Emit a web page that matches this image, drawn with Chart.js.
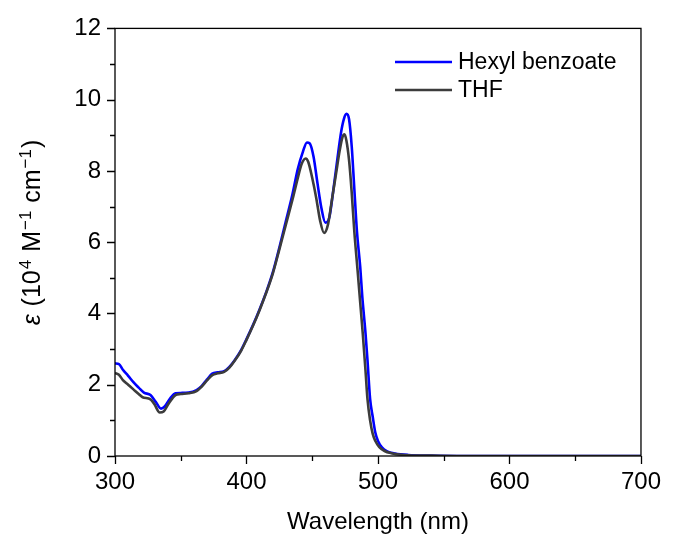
<!DOCTYPE html>
<html>
<head>
<meta charset="utf-8">
<script src="https://cdn.jsdelivr.net/npm/chart.js@4/dist/chart.umd.min.js"></script>
<style>
  html, body { margin: 0; padding: 0; background: #fff; }
</style>
</head>
<body>
<canvas id="chart" width="673" height="542"></canvas>
<script>
// Series data (wavelength in nm, epsilon in 10^4 M^-1 cm^-1)
const seriesLabels = ['Hexyl benzoate', 'THF'];

const hexylWavelength = [300, 303, 306, 310, 314, 318, 322, 327, 331, 335, 338, 342, 346, 350, 356, 362, 366, 370, 374, 378, 383, 387, 391, 396, 400, 405, 410, 415, 420, 425, 430, 435, 439, 443, 446, 448, 451, 454, 457, 460, 463, 466, 469, 472, 474, 476, 478, 480, 482, 484, 486.5, 488, 490.5, 492, 494, 496, 498, 500, 503, 507, 513, 523, 540, 560, 700];
const hexylEps = [2.60, 2.58, 2.42, 2.25, 2.07, 1.92, 1.78, 1.71, 1.52, 1.33, 1.40, 1.62, 1.76, 1.77, 1.78, 1.85, 1.97, 2.15, 2.31, 2.35, 2.38, 2.50, 2.69, 2.98, 3.28, 3.68, 4.12, 4.60, 5.15, 5.85, 6.60, 7.35, 8.05, 8.55, 8.80, 8.78, 8.40, 7.65, 6.95, 6.55, 6.70, 7.45, 8.30, 9.10, 9.45, 9.60, 9.45, 8.70, 7.50, 6.30, 5.30, 4.50, 3.45, 2.70, 1.60, 1.10, 0.65, 0.42, 0.24, 0.13, 0.07, 0.03, 0.01, 0, 0];

const thfWavelength = [300, 303, 306, 310, 314, 318, 321, 327, 330, 334, 337, 341, 346, 350, 356, 362, 366, 370, 374, 378, 383, 387, 391, 396, 400, 405, 410, 415, 420, 425, 430, 435, 439, 442, 445, 447, 450, 453, 456, 459, 462, 465, 468, 471, 473, 474.5, 476, 478, 480, 482, 484.5, 486.5, 488.5, 490.5, 492, 494, 496, 498, 501, 505, 510, 520, 540, 560, 700];
const thfEps = [2.33, 2.28, 2.13, 2.00, 1.87, 1.74, 1.65, 1.59, 1.45, 1.22, 1.25, 1.48, 1.71, 1.74, 1.76, 1.82, 1.95, 2.12, 2.27, 2.32, 2.36, 2.48, 2.67, 2.96, 3.26, 3.66, 4.10, 4.58, 5.12, 5.80, 6.50, 7.20, 7.80, 8.20, 8.35, 8.25, 7.80, 7.25, 6.60, 6.26, 6.50, 7.20, 7.90, 8.60, 8.95, 9.03, 8.85, 8.30, 7.40, 6.30, 5.20, 4.30, 3.40, 2.40, 1.60, 1.00, 0.62, 0.42, 0.25, 0.14, 0.08, 0.03, 0.01, 0, 0];

const xTicks = [300, 400, 500, 600, 700];
const yTicks = [0, 2, 4, 6, 8, 10, 12];

const fontFamily = "Arial, 'Liberation Sans', Helvetica, sans-serif";
const blue = '#0000ff';
const grey = '#3c3c3c';

function toPoints(xs, ys) {
    return xs.map((x, i) => ({ x: x, y: ys[i] }));
}

// frame, outward ticks (major + minor), legend and axis titles
const decorations = {
    id: 'decorations',
    afterDraw(chart) {
        const { ctx, chartArea: a, scales: { x, y } } = chart;
        ctx.save();
        ctx.strokeStyle = '#000';
        ctx.lineWidth = 1.3;
        ctx.strokeRect(a.left, a.top, a.right - a.left, a.bottom - a.top);

        ctx.beginPath();
        for (let v = yTicks[0]; v <= yTicks[yTicks.length - 1]; v += 1) {
            const p = Math.round(y.getPixelForValue(v)) + 0.5;
            const len = yTicks.includes(v) ? 8 : 5;
            ctx.moveTo(a.left, p);
            ctx.lineTo(a.left - len, p);
        }
        for (let v = xTicks[0]; v <= xTicks[xTicks.length - 1]; v += 50) {
            const p = Math.round(x.getPixelForValue(v)) + 0.5;
            const len = xTicks.includes(v) ? 8 : 5;
            ctx.moveTo(p, a.bottom);
            ctx.lineTo(p, a.bottom + len);
        }
        ctx.stroke();

        // legend inside plot
        ctx.font = '23px ' + fontFamily;
        ctx.textBaseline = 'middle';
        ctx.textAlign = 'left';
        chart.data.datasets.forEach((ds, i) => {
            const ly = 62 + i * 28;
            ctx.strokeStyle = ds.borderColor;
            ctx.lineWidth = 2.5;
            ctx.beginPath();
            ctx.moveTo(395, ly);
            ctx.lineTo(452, ly);
            ctx.stroke();
            ctx.fillStyle = '#000';
            ctx.fillText(ds.label, 458, ly + 1);
        });

        // x title
        ctx.font = '24px ' + fontFamily;
        ctx.textAlign = 'center';
        ctx.fillText('Wavelength (nm)', (a.left + a.right) / 2, 522);

        // y title with italic epsilon and superscripts
        const parts = [
            { t: '\u03b5', f: 'italic 25px ' + fontFamily, dy: 0 },
            { t: ' (10', f: '25px ' + fontFamily, dy: 0 },
            { t: '4', f: '17px ' + fontFamily, dy: -9 },
            { t: ' M', f: '25px ' + fontFamily, dy: 0 },
            { t: '\u22121', f: '17px ' + fontFamily, dy: -9 },
            { t: ' cm', f: '25px ' + fontFamily, dy: 0 },
            { t: '\u22121', f: '17px ' + fontFamily, dy: -9 },
            { t: ')', f: '25px ' + fontFamily, dy: 0 }
        ];
        let total = 0;
        parts.forEach(p => { ctx.font = p.f; p.w = ctx.measureText(p.t).width + 1; total += p.w; });
        ctx.translate(31, 232);
        ctx.rotate(-Math.PI / 2);
        ctx.textAlign = 'left';
        ctx.textBaseline = 'alphabetic';
        let cx = -total / 2;
        parts.forEach(p => {
            ctx.font = p.f;
            ctx.fillText(p.t, cx, 9 + p.dy);
            cx += p.w;
        });
        ctx.restore();
    }
};

new Chart(document.getElementById('chart'), {
    type: 'line',
    data: {
        datasets: [{
            label: seriesLabels[0],
            data: toPoints(hexylWavelength, hexylEps),
            borderColor: blue,
            borderWidth: 2.6,
            order: 2
        }, {
            label: seriesLabels[1],
            data: toPoints(thfWavelength, thfEps),
            borderColor: grey,
            borderWidth: 2.6,
            order: 1
        }]
    },
    options: {
        responsive: false,
        animation: false,
        devicePixelRatio: 1,
        layout: { padding: { top: 25, right: 22, left: 0, bottom: 0 } },
        plugins: {
            legend: { display: false },
            tooltip: { enabled: false }
        },
        elements: {
            point: { radius: 0 },
            line: { cubicInterpolationMode: 'monotone', fill: false }
        },
        scales: {
            x: {
                type: 'linear',
                min: 300,
                max: 700,
                afterFit(scale) { scale.height = 86; },
                afterBuildTicks(scale) { scale.ticks = xTicks.map(v => ({ value: v })); },
                grid: { display: false, drawTicks: false },
                border: { display: false },
                ticks: { padding: 12, color: '#000', font: { family: fontFamily, size: 24 }, maxRotation: 0 }
            },
            y: {
                min: 0,
                max: 12,
                afterFit(scale) { scale.width = 115; },
                afterBuildTicks(scale) { scale.ticks = yTicks.map(v => ({ value: v })); },
                grid: { display: false, drawTicks: false },
                border: { display: false },
                ticks: { padding: 14, color: '#000', font: { family: fontFamily, size: 24 } }
            }
        }
    },
    plugins: [decorations]
});
</script>
</body>
</html>
